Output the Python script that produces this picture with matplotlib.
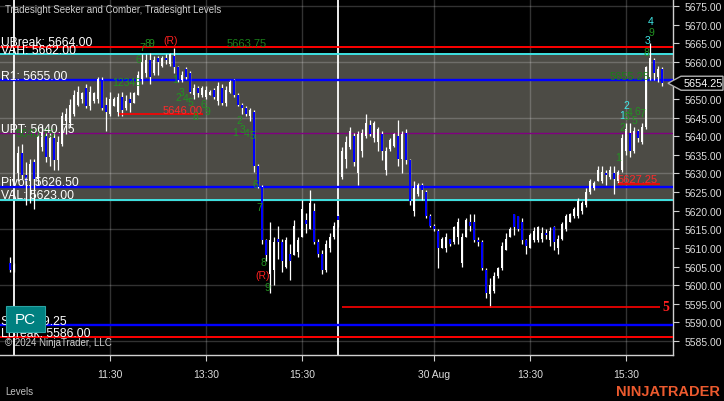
import matplotlib
matplotlib.use("Agg")
import matplotlib.pyplot as plt
from matplotlib.patches import Polygon, Rectangle

plt.rcParams['font.family'] = ['Liberation Sans', 'DejaVu Sans']

# 5 minute bars, bar index 0 = last bar of 29 Aug previous session
bars = list(range(-1, 163))
opens = [5606, 5604,
         5630, 5635.5, 5629.5, 5628, 5633, 5628.5, 5637, 5640, 5634.5, 5639.5,
         5633.5, 5638, 5644, 5643.5, 5646, 5648.5, 5650, 5653, 5648, 5649.5,
         5650, 5655, 5648.5, 5646, 5648, 5646.5, 5650.5, 5647.5, 5650, 5649,
         5651, 5655.5, 5657, 5660.5, 5657, 5661, 5659, 5661, 5659.5, 5661.5,
         5658.5, 5655, 5658, 5657, 5651, 5653, 5651, 5650.5, 5651, 5652.5,
         5649.5, 5653, 5649, 5652, 5655, 5651, 5648.5, 5647.5, 5645.5, 5646.5,
         5632, 5626.5, 5612, 5603, 5604, 5612.5, 5611.5, 5605, 5608.5, 5608,
         5609, 5613, 5617.5, 5615, 5620, 5611.5, 5608.5, 5604, 5610, 5613,
         5618.5,
         5629, 5634, 5637, 5640, 5630, 5636, 5640, 5643, 5639.5, 5638.5,
         5640.5, 5631, 5636.5, 5637.5, 5640, 5634, 5641, 5633.5, 5620, 5624.5,
         5627, 5625, 5618.5, 5616, 5614.5, 5610, 5610, 5612.5, 5611.5, 5613,
         5606, 5613, 5617, 5617, 5612, 5611.5, 5604, 5597.5, 5598.5, 5602.5,
         5604.5, 5609.5, 5613, 5619, 5618.5, 5617, 5612, 5610, 5612, 5612,
         5612.5, 5614, 5612, 5615.5, 5610, 5612.5, 5615, 5617, 5618.5, 5618.5,
         5620, 5621.5, 5625, 5626, 5628, 5628, 5630, 5629, 5630, 5628,
         5631, 5636, 5641, 5636, 5641.5, 5638.5, 5642.5, 5656, 5660.5, 5656,
         5658]
highs = [5607.5, 5606,
         5637.5, 5638, 5633, 5634, 5634, 5641, 5643, 5641, 5641, 5641,
         5640, 5646.5, 5647.5, 5650, 5652.5, 5653.5, 5652, 5654, 5653.5, 5652,
         5656, 5656, 5650.5, 5652, 5650.5, 5651.5, 5652, 5651, 5652, 5652,
         5657.5, 5662, 5662, 5662.5, 5661.5, 5661.5, 5661.5, 5662, 5662.5, 5663.75,
         5659, 5657.5, 5658.5, 5657.5, 5654, 5653.5, 5653.5, 5653.5, 5652.5, 5653,
         5654.5, 5654, 5653.5, 5655, 5655.5, 5651.5, 5649, 5648, 5647.5, 5647,
         5632.5, 5627, 5612.5, 5617, 5613, 5616, 5612.5, 5613, 5611, 5617.5,
         5613, 5623, 5619.5, 5625.5, 5622, 5612.5, 5609.5, 5612, 5614, 5617,
         5619,
         5637, 5640, 5642.5, 5641, 5641.5, 5642, 5646, 5644.5, 5644, 5642.5,
         5641.5, 5637, 5639.5, 5641, 5644.5, 5641.5, 5642, 5634, 5628, 5627.5,
         5627.5, 5625.5, 5619, 5616.5, 5615, 5613, 5614, 5612.5, 5616, 5618,
         5614, 5618, 5619, 5619, 5613, 5612, 5604.5, 5602, 5603.5, 5605,
         5611.5, 5614, 5615.5, 5619, 5618.5, 5618, 5612.5, 5614, 5615.5, 5616,
         5615.5, 5615, 5615.5, 5616, 5613.5, 5617, 5619, 5619.5, 5621, 5623.5,
         5622.5, 5626, 5628.5, 5628, 5632, 5632, 5631, 5632, 5632, 5631,
         5640.5, 5643.5, 5643.5, 5642.5, 5642, 5643.5, 5659, 5665, 5661, 5659,
         5658.5]
lows = [5603.5, 5603.5,
        5628, 5628.5, 5621.5, 5622, 5620.5, 5627, 5636, 5633, 5632, 5631,
        5631, 5637.5, 5640.5, 5642.5, 5645.5, 5648, 5649, 5647.5, 5647, 5649,
        5649, 5647, 5641.5, 5645.5, 5648, 5645.5, 5645.5, 5647, 5646.5, 5649,
        5651, 5654, 5656, 5654, 5656.5, 5656.5, 5658.5, 5659.5, 5659, 5657,
        5654.5, 5654.5, 5655.5, 5651.5, 5650, 5650.5, 5650.5, 5650, 5651, 5650,
        5648.5, 5648.5, 5648, 5651.5, 5650.5, 5648, 5646, 5645.5, 5644, 5630.5,
        5626, 5611, 5606.5, 5598, 5600, 5607, 5603.5, 5604.5, 5601.5, 5608,
        5607.5, 5613, 5614, 5615, 5611, 5607.5, 5603, 5603.5, 5609, 5612.5,
        5615.5,
        5628.5, 5631.5, 5636.5, 5632, 5627, 5634.5, 5639.5, 5640, 5638.5, 5636,
        5633.5, 5629.5, 5636, 5637, 5632, 5630, 5632.5, 5621.5, 5618.5, 5624,
        5623, 5618, 5615.5, 5614.5, 5604.5, 5610, 5609, 5610.5, 5611, 5611,
        5605, 5613, 5614.5, 5611.5, 5610.5, 5604, 5596.5, 5594.25, 5598, 5602,
        5604, 5609.5, 5613, 5613.5, 5614.5, 5611, 5608.5, 5610, 5611.5, 5611.5,
        5611.5, 5612.5, 5610.5, 5609.5, 5608.5, 5612, 5614.5, 5617, 5618, 5618,
        5619, 5621, 5624.5, 5625.5, 5628, 5627.5, 5627, 5628.5, 5624.5, 5627.5,
        5630.5, 5635, 5634.5, 5635.5, 5638.5, 5638, 5642, 5655, 5655, 5654.5,
        5653.5]
closes = [5604, 5605.5,
          5635.5, 5629.5, 5628, 5632.5, 5628.5, 5640, 5641, 5634.5, 5639.5, 5633.5,
          5638.5, 5645.5, 5646, 5648.5, 5651, 5652, 5651.5, 5648, 5652, 5651.5,
          5655.5, 5647.5, 5646.5, 5650, 5650, 5650.5, 5647, 5649.5, 5649, 5651.5,
          5656.5, 5660, 5660.5, 5656, 5660.5, 5660, 5661, 5660.5, 5662, 5658.5,
          5655, 5656.5, 5656, 5652, 5653, 5651.5, 5653, 5652.5, 5652, 5650.5,
          5653.5, 5649, 5652.5, 5654.5, 5651, 5648.5, 5647.5, 5646, 5647, 5632,
          5626.5, 5612, 5608, 5612, 5611.5, 5611.5, 5606.5, 5612, 5606.5, 5616,
          5612, 5620.5, 5616.5, 5622, 5611.5, 5608.5, 5604, 5611, 5613, 5616,
          5617.5,
          5636, 5638.5, 5641.5, 5633, 5640.5, 5641, 5643.5, 5640.5, 5643.5, 5642,
          5636, 5636, 5639, 5640.5, 5634, 5640.5, 5633.5, 5622.5, 5626, 5627,
          5625.5, 5618.5, 5616, 5615, 5610, 5612.5, 5613, 5611, 5615.5, 5617,
          5613, 5617.5, 5616, 5612, 5611.5, 5604.5, 5598, 5600, 5602.5, 5604.5,
          5610.5, 5612.5, 5615, 5615.5, 5615, 5612, 5610.5, 5613.5, 5614.5, 5615.5,
          5614, 5613.5, 5614.5, 5611.5, 5612.5, 5616.5, 5618.5, 5619, 5620.5, 5622.5,
          5622, 5625, 5628, 5627.5, 5631, 5630.5, 5629.5, 5631, 5628.5, 5630.5,
          5639.5, 5642, 5636, 5641.5, 5639.5, 5642.5, 5658.5, 5661, 5657, 5658,
          5654.25]

level_names = ['UBreak', 'VAH', 'R1', 'UPT', 'Pivot', 'VAL', 'S1', 'LBreak']
level_prices = [5664.00, 5662.00, 5655.00, 5640.75, 5626.50, 5623.00, 5589.25, 5586.00]
level_colors = ['#ff0000', '#3fe3e3', '#0000ff', '#800080', '#0000ff', '#3fe3e3', '#0000ff', '#ff0000']
level_widths = [1.4, 1.4, 1.7, 1.0, 1.7, 1.4, 1.7, 1.4]

price_ticks = list(range(5585, 5680, 5))
grid_prices = [5585, 5600, 5615, 5630, 5645, 5660, 5675]
time_ticks = [24, 48, 72, 105, 129, 153]
time_labels = ['11:30', '13:30', '15:30', '30 Aug', '13:30', '15:30']
session_breaks = [0, 81]
last_price = 5654.25

# red target lines: price, first bar, last bar, label
targets = [(5646.00, 26.25, 47.25, '5646.00'), (5627.25, 151, 161.5, '5627.25'),
           (5594.25, 82, 161.5, '5')]

# seeker / comber counts: text, bar, price, colour
G, C, R = '#229322', '#3fe8e8', '#ff2020'
counts = [('6', 31, 5660.8, G), ('7', 32, 5664.0, G), ('8', 33.4, 5665.1, G), ('9', 34.3, 5665.1, G),
          ('(R)', 39.25, 5665.9, R), ('12345', 28.25, 5654.6, G),
          ('1', 40.25, 5655.4, G), ('2', 41, 5650.5, G), ('3', 42, 5651.9, G), ('4', 43, 5650.3, G),
          ('5', 44, 5649.2, G), ('6', 47.25, 5648.7, G), ('8', 45.25, 5645.4, G), ('9', 48.25, 5646.8, G),
          ('2', 56.4, 5644.4, G), ('1', 55.25, 5641.1, G), ('3', 57.25, 5642.0, G), ('4', 58.25, 5640.9, G),
          ('5', 59.5, 5640.4, G), ('6', 60.25, 5627.2, G), ('7', 61.25, 5621.0, G), ('8', 62.25, 5606.2, G),
          ('(R)', 62.25, 5602.7, R), ('9', 63.25, 5599.5, G),
          ('1', 151, 5634.4, G), ('2', 152.1, 5642.5, G), ('1', 152, 5645.7, C), ('5', 153, 5645.4, G),
          ('2', 153.1, 5648.4, C), ('4', 153.8, 5646.6, G), ('5', 155.2, 5644.4, G), ('6', 155.8, 5646.9, G),
          ('7', 157, 5646.2, G), ('8', 158.1, 5662.6, G), ('3', 158.4, 5665.9, C), ('9', 159.25, 5668.0, G),
          ('4', 159.1, 5671.0, C)]

W, H = 724, 402
fig = plt.figure(figsize=(W / 100, H / 100), dpi=100, facecolor='black')
ax = fig.add_axes([0, 46 / H, 673 / W, 356 / H])
ax.set_facecolor('black')
ax.set_xlim(-3.5, 164.75)
ax.set_ylim(5581.23, 5676.88)

# value area band
ax.axhspan(level_prices[5], level_prices[1], color='#4c4b45', zorder=0)

for p in grid_prices:
    ax.axhline(p, color='white', alpha=0.2, lw=1.0, zorder=1)
for t in time_ticks:
    ax.axvline(t, color='white', alpha=0.2, lw=1.0, zorder=1)
for s in session_breaks:
    ax.axvline(s, color='white', lw=1.3, zorder=2)

for name, p, col, lw in zip(level_names, level_prices, level_colors, level_widths):
    ax.axhline(p, color=col, lw=lw, zorder=3)

# candles
body_bot = [min(o, c) for o, c in zip(opens, closes)]
body_h = [max(abs(c - o), 0.3) for o, c in zip(opens, closes)]
body_col = ['white' if c > o else '#0000ff' for o, c in zip(opens, closes)]
ax.vlines(bars, lows, highs, color='white', lw=0.9, zorder=4)
ax.bar(bars, body_h, bottom=body_bot, width=0.65, color=body_col, zorder=5, linewidth=0)

# level labels
for name, p in zip(level_names, level_prices):
    ax.text(-3.3, p + 0.4, f'{name}: {p:.2f}', color='white', fontsize=8.7,
            va='baseline', ha='left', zorder=7)

for p, b0, b1, lab in targets:
    ax.hlines(p, b0, b1, color='#ff0000', lw=1.2, zorder=6)
ax.text(targets[0][2], targets[0][0] + 0.35, targets[0][3], color='#ff2a2a', fontsize=8,
        ha='right', va='baseline', zorder=7)
ax.text(targets[1][1], targets[1][0] + 0.35, targets[1][3], color='#ff2a2a', fontsize=8,
        ha='left', va='baseline', zorder=7)
ax.text(targets[2][2] + 1.5, targets[2][0], targets[2][3], color='#ff2020', fontsize=10,
        fontweight='bold', family='Liberation Serif', ha='center', va='center', zorder=7)

ax.text(53.25, 5664.3, '5663.75', color='#1a7f1a', fontsize=8, va='baseline', zorder=7)
ax.text(149, 5655.3, '5655.25', color='#1a7f1a', fontsize=8, va='baseline', zorder=7)
ax.text(0.3, 5640.0, '5640.75', color='#1a7f1a', fontsize=8, va='baseline', zorder=6)

for txt, b, p, col in counts:
    ax.text(b, p, txt, color=col, fontsize=7.5, ha='center', va='center', zorder=8)

# axes styling
for side in ['top', 'left']:
    ax.spines[side].set_visible(False)
for side in ['right', 'bottom']:
    ax.spines[side].set_color('#cfcfcf')
    ax.spines[side].set_linewidth(1.0)
ax.yaxis.tick_right()
ax.set_yticks(price_ticks)
# the 5655 label sits under the last-price marker
ax.set_yticklabels(['' if abs(p - last_price) < 2.5 else f'{p:.2f}' for p in price_ticks])
ax.tick_params(axis='y', colors='#cfcfcf', labelcolor='#dcdcdc', labelsize=7.5, length=4, pad=4)
ax.set_xticks(time_ticks)
ax.set_xticklabels(time_labels)
ax.tick_params(axis='x', colors='#cfcfcf', labelcolor='#dcdcdc', labelsize=7.5, length=4, pad=6)

# current price marker
fig.canvas.draw()
y_disp = ax.transData.transform((0, last_price))[1]
yf = y_disp / H
hh = 7 / H
x0, x1, xt = 681 / W, 723 / W, 668 / W
marker = Polygon([(xt, yf), (x0, yf + hh), (x1, yf + hh), (x1, yf - hh), (x0, yf - hh)],
                 closed=True, transform=fig.transFigure, facecolor='black',
                 edgecolor='#b0b0b0', lw=1.0, zorder=10)
fig.add_artist(marker)
fig.text((x0 + x1) / 2 + 1 / W, yf, f'{last_price:.2f}', color='white', fontsize=7.8,
         ha='center', va='center', zorder=11)

# text overlays
fig.text(5 / W, 1 - 10 / H, 'Tradesight Seeker and Comber, Tradesight Levels',
         color='#cfcfcf', fontsize=7, va='center')
fig.text(5 / W, 1 - 343 / H, '\u00a9 2024 NinjaTrader, LLC', color='#d0d0d0',
         fontsize=7, va='center', zorder=9)
pc = Rectangle((6 / W, 1 - 333 / H), 39 / W, 26 / H, transform=fig.transFigure,
               facecolor='#008080', edgecolor='#2aa3a3', lw=0.8, zorder=9)
fig.add_artist(pc)
fig.text(25.5 / W, 1 - 320 / H, 'PC', color='white', fontsize=11, ha='center',
         va='center', zorder=10)
fig.text(5 / W, 1 - 392 / H, 'Levels', color='#c0c0c0', fontsize=7, va='center')
fig.text(720 / W, 1 - 392 / H, 'NINJATRADER', color='#ec5a2e', fontsize=10.5,
         fontweight='bold', ha='right', va='center')

fig.savefig('out.png', dpi=100, facecolor='black')
